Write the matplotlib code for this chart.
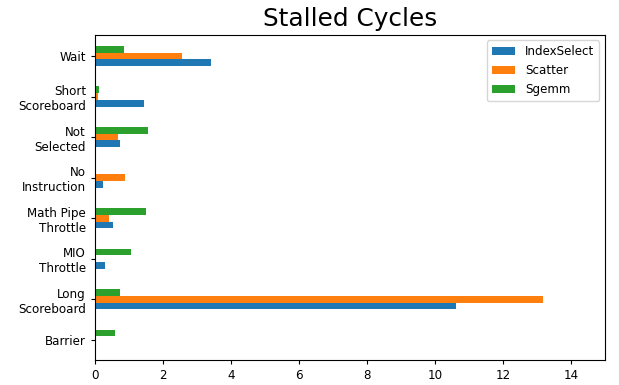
import matplotlib
matplotlib.use("Agg")
import matplotlib.pyplot as plt
import numpy as np

categories = ["Barrier", "Long\nScoreboard", "MIO\nThrottle", "Math Pipe\nThrottle",
              "No\nInstruction", "Not\nSelected", "Short\nScoreboard", "Wait"]
index_select = [0.0, 10.61, 0.30, 0.52, 0.24, 0.74, 1.44, 3.42]
scatter = [0.0, 13.17, 0.0, 0.42, 0.87, 0.68, 0.10, 2.56]
sgemm = [0.60, 0.73, 1.05, 1.49, 0.0, 1.55, 0.11, 0.84]
series_names = ["IndexSelect", "Scatter", "Sgemm"]
colors = ["#1f77b4", "#ff7f0e", "#2ca02c"]

plt.rcParams["font.size"] = 8.6
plt.rcParams["xtick.major.size"] = 3.0
plt.rcParams["ytick.major.size"] = 3.0

fig = plt.figure(figsize=(6.19, 3.85), dpi=100)
ax = fig.add_axes([95/619, 25/385, 510/619, 325.5/385])

y = np.arange(len(categories))
h = 0.5 / 3
for i, (vals, name, c) in enumerate(zip([index_select, scatter, sgemm], series_names, colors)):
    ax.barh(y + (i - 1) * h, vals, height=h, color=c, label=name)

ax.set_yticks(y)
ax.set_yticklabels(categories)
ax.set_ylim(-0.5, 7.53)
ax.set_xlim(0, 15)
ax.set_xticks([0, 2, 4, 6, 8, 10, 12, 14])
ax.set_title("Stalled Cycles", fontsize=17.8)
ax.legend(loc="upper right")
fig.savefig("out.png", dpi=100)
